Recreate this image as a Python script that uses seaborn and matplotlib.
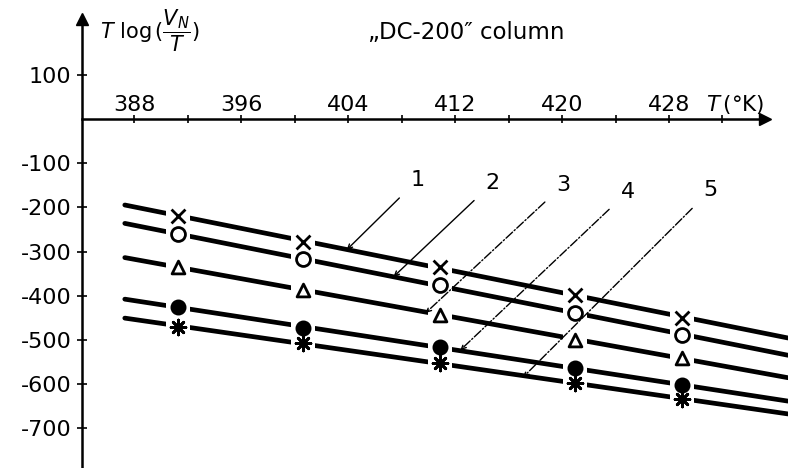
import numpy as np
import pandas as pd
import seaborn as sns
import matplotlib.pyplot as plt
from matplotlib.ticker import FixedLocator

# data
temps = [391.3, 400.6, 410.9, 421.0, 429.0]
series_names = ['1', '2', '3', '4', '5']
vals_1 = [-219, -278, -334, -398, -450]
vals_2 = [-261, -317, -376, -438, -489]
vals_3 = [-335, -387, -443, -500, -541]
vals_4 = [-425, -472, -517, -564, -602]
vals_5 = [-470, -507, -553, -598, -634]
x_ticks = [388, 396, 404, 412, 420, 428]
y_ticks = [-700, -600, -500, -400, -300, -200, -100, 100]

df = pd.DataFrame({
    'T': temps * 5,
    'val': vals_1 + vals_2 + vals_3 + vals_4 + vals_5,
    'series': np.repeat(series_names, len(temps)),
})

sns.set_style('white')
plt.rcParams['font.family'] = ['DejaVu Sans']
plt.rcParams['axes.unicode_minus'] = False
plt.rcParams['mathtext.fontset'] = 'dejavusans'
plt.rcParams['text.color'] = 'black'
plt.rcParams['xtick.color'] = 'black'
plt.rcParams['ytick.color'] = 'black'

fig = plt.figure(figsize=(7.88, 4.68), dpi=100)
ax = fig.add_axes([82 / 788, 0, 706 / 788, 451 / 468])

# marker styles per series: (marker, facecolor, size)
marker_style = {
    '1': ('x', 'black', 100),
    '2': ('o', 'white', 100),
    '3': ('^', 'white', 85),
    '4': ('o', 'black', 90),
    '5': ((8, 2, 0), 'black', 115),
}

# fitted lines run past the data
ax.set_xlim(387.3, 436.9)
for name in series_names:
    sub = df[df['series'] == name]
    sns.regplot(data=sub, x='T', y='val', ci=None, scatter=False, truncate=False,
                line_kws=dict(color='black', lw=3.4, zorder=2), ax=ax)
    # white gap in the line around every point
    ax.scatter(sub['T'], sub['val'], marker='s', s=320, c='white',
               linewidths=0, zorder=3)
    m, fc, s = marker_style[name]
    sns.scatterplot(data=sub, x='T', y='val', marker=m, s=s, facecolor=fc,
                    edgecolor='black', linewidth=2, color='black', zorder=4, ax=ax)

ax.set_xlim(384.1, 436.9)
ax.set_ylim(-790, 231)
ax.set_xlabel('')
ax.set_ylabel('')

# axes through the origin
for side in ['top', 'right']:
    ax.spines[side].set_visible(False)
ax.spines['bottom'].set_position(('data', 0))
ax.spines['bottom'].set_bounds(384.1, 434.9)
for side in ['bottom', 'left']:
    ax.spines[side].set_linewidth(1.8)
    ax.spines[side].set_color('black')
ax.plot(435.2, 0, '>', color='black', ms=9, clip_on=False, zorder=5)
ax.plot(384.1, 226, '^', color='black', ms=9, clip_on=False, zorder=5)

ax.xaxis.set_major_locator(FixedLocator(x_ticks))
ax.xaxis.set_minor_locator(FixedLocator([392, 400, 408, 416, 424, 432]))
ax.yaxis.set_major_locator(FixedLocator(y_ticks))
ax.tick_params(axis='x', which='both', direction='inout', length=6, width=1.2,
               pad=-20, labelsize=16, bottom=True)
ax.tick_params(axis='y', direction='inout', length=7, width=1.2, pad=4,
               labelsize=16, left=True)

# labels and titles
fig.text(100 / 788, 1 - 31 / 468, r'$T\ \mathrm{log}\,(\dfrac{V_N}{T})$',
         fontsize=15, ha='left', va='center')
fig.text(466 / 788, 1 - 33 / 468, '\u201eDC-200\u2033 column', fontsize=16.5,
         ha='center', va='center')
fig.text(706 / 788, 1 - 105 / 468, r'$T\,$(°K)', fontsize=15.5,
         ha='left', va='center')

# numbered leader lines
labels = [
    ('1', (409.2, -138), (403.9, -296), '-'),
    ('2', (414.8, -145), (407.4, -357), '-'),
    ('3', (420.1, -149), (409.8, -439), '-.'),
    ('4', (424.9, -165), (412.4, -523), '-.'),
    ('5', (431.1, -161), (417.1, -584), '-.'),
]
for txt, tpos, apos, ls in labels:
    ax.annotate(txt, xy=apos, xytext=tpos, fontsize=16, ha='center', va='center',
                arrowprops=dict(arrowstyle='->', lw=1.0, color='black', linestyle=ls,
                                shrinkA=8, shrinkB=0, mutation_scale=8))

fig.savefig('out.png', dpi=100)
